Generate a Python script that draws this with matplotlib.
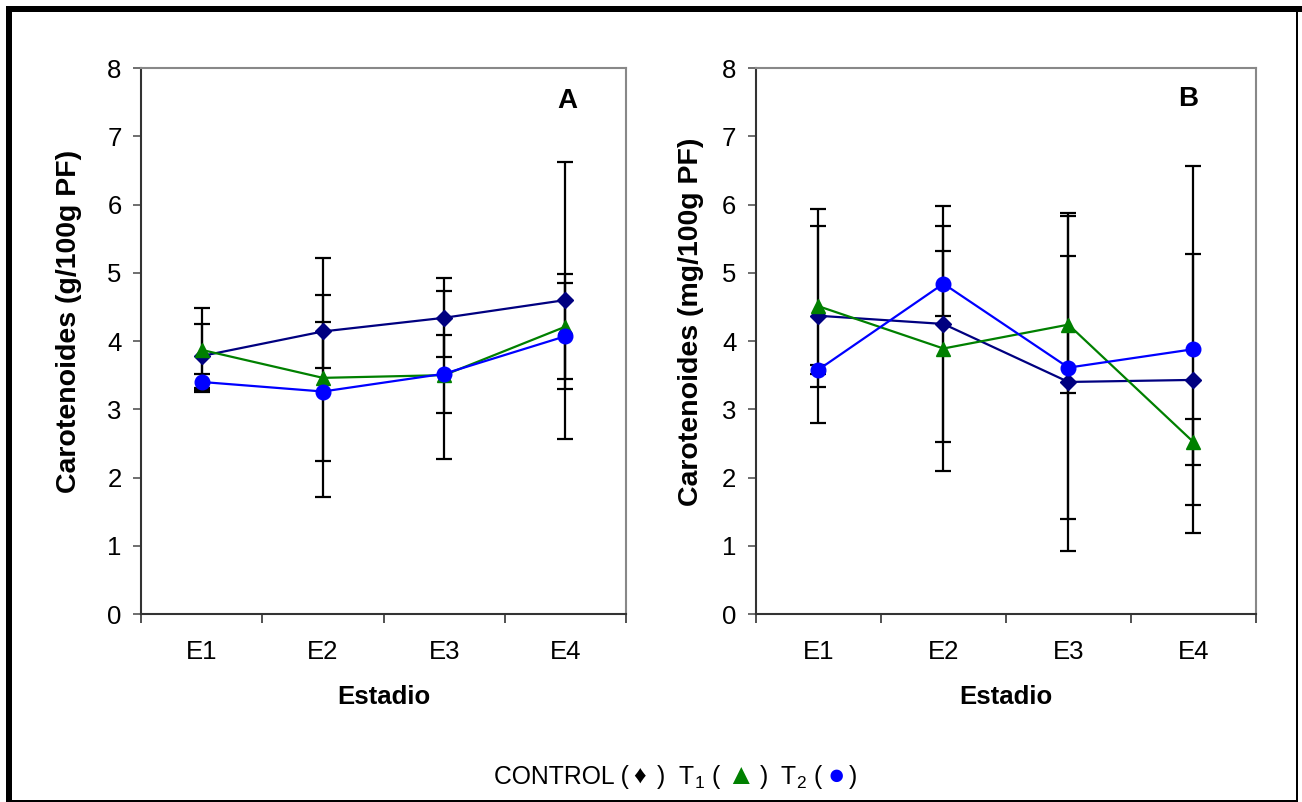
import numpy as np
import matplotlib
matplotlib.use('Agg')
import matplotlib.pyplot as plt
from matplotlib.patches import Rectangle
from matplotlib.offsetbox import TextArea, HPacker, AnchoredOffsetbox

plt.rcParams['font.family'] = ['Liberation Sans', 'DejaVu Sans']
plt.rcParams['mathtext.fontset'] = 'custom'
plt.rcParams['mathtext.rm'] = 'Liberation Sans'
plt.rcParams['mathtext.it'] = 'Liberation Sans'

estadios = ['E1', 'E2', 'E3', 'E4']

# panel A  (g/100g PF)
ctrl_a = [3.78, 4.14, 4.34, 4.60]
ctrl_a_err = [0.47, 0.53, 0.58, 2.03]
t1_a = [3.87, 3.46, 3.50, 4.21]
t1_a_err = [0.61, 1.75, 1.23, 0.77]
t2_a = [3.40, 3.26, 3.52, 4.07]
t2_a_err = [0.12, 1.02, 0.57, 0.78]

# panel B  (mg/100g PF)
ctrl_b = [4.37, 4.25, 3.40, 3.43]
ctrl_b_err = [1.57, 1.73, 2.47, 1.84]
t1_b = [4.51, 3.89, 4.24, 2.52]
t1_b_err = [1.18, 1.80, 1.00, 0.34]
t2_b = [3.58, 4.84, 3.61, 3.88]
t2_b_err = [0.07, 0.48, 2.22, 2.69]

FS = 18.5


def draw_panel(ax, series, ylabel, letter, lpos, ylab_x):
    x = np.arange(len(estadios)) + 0.5
    for vals, errs, color, marker, ms in series:
        ax.errorbar(x, vals, yerr=errs, color=color, marker=marker, ms=ms,
                    lw=1.6, ecolor='black', elinewidth=1.6, capsize=6,
                    capthick=1.6)
    ax.set_xlim(0, 4)
    ax.set_ylim(0, 8)
    ax.set_yticks(range(9))
    ax.set_xticks(range(5))
    ax.set_xticklabels([])
    ax.set_xticks(x, minor=True)
    ax.set_xticklabels(estadios, minor=True)
    ax.tick_params(axis='x', which='major', direction='out', length=6.5,
                   width=1.2, color='#333333')
    ax.tick_params(axis='x', which='minor', length=0, pad=19, labelsize=FS)
    ax.tick_params(axis='y', direction='out', length=6, width=1.2,
                   color='#555555', labelsize=FS, pad=8)
    for s in ['left', 'bottom']:
        ax.spines[s].set_color('#333333')
        ax.spines[s].set_linewidth(1.5)
    for s in ['top', 'right']:
        ax.spines[s].set_color('#888888')
        ax.spines[s].set_linewidth(1.5)
    ax.set_xlabel('Estadio', fontsize=FS, fontweight='bold', labelpad=15)
    ax.set_ylabel(ylabel, fontsize=20.5, fontweight='bold')
    ax.yaxis.set_label_coords(ylab_x, 0.535)
    ax.text(lpos[0], lpos[1], letter, transform=ax.transAxes, fontsize=20,
            fontweight='bold', ha='center', va='center')


fig = plt.figure(figsize=(13.02, 8.02), dpi=100)
axA = fig.add_axes([0.1083, 0.2344, 0.3725, 0.6808])
axB = fig.add_axes([0.5806, 0.2344, 0.3840, 0.6808])

draw_panel(axA, [(ctrl_a, ctrl_a_err, '#000080', 'D', 8),
                 (t1_a, t1_a_err, '#008000', '^', 10.5),
                 (t2_a, t2_a_err, '#0000FF', 'o', 10.5)],
           'Carotenoides (g/100g PF)', 'A', (0.88, 0.94), -0.121)
draw_panel(axB, [(ctrl_b, ctrl_b_err, '#000080', 'D', 8),
                 (t1_b, t1_b_err, '#008000', '^', 10.5),
                 (t2_b, t2_b_err, '#0000FF', 'o', 10.5)],
           'Carotenoides (mg/100g PF)', 'B', (0.864, 0.944), -0.104)

# legend line at the bottom
LFS = 17.8
parts = [('CONTROL (', 'black', LFS), ('\u2666', 'black', LFS),
         (' )  T$_1$ (', 'black', LFS), ('\u25B2', '#008000', LFS + 3),
         (')  T$_2$ (', 'black', LFS), ('\u25CF', '#0000FF', LFS + 3),
         (')', 'black', LFS)]
boxes = [TextArea(t, textprops=dict(color=c, fontsize=f)) for t, c, f in parts]
pack = HPacker(children=boxes, align='baseline', pad=0, sep=3)
anch = AnchoredOffsetbox(loc='center', child=pack, frameon=False,
                         bbox_to_anchor=(0.519, 0.032),
                         bbox_transform=fig.transFigure, borderpad=0)
fig.add_artist(anch)

# outer frame: heavy on left/top, thin on right/bottom
fig.add_artist(Rectangle((6 / 1302, 0), 6 / 1302, 1 - 6 / 802,
                         transform=fig.transFigure, color='black', lw=0))
fig.add_artist(Rectangle((6 / 1302, 1 - 12 / 802), 1 - 6 / 1302, 6 / 802,
                         transform=fig.transFigure, color='black', lw=0))
fig.add_artist(Rectangle((1296 / 1302, 0), 2 / 1302, 1 - 6 / 802,
                         transform=fig.transFigure, color='black', lw=0))
fig.add_artist(Rectangle((6 / 1302, 0.5 / 802), 1 - 10 / 1302, 2 / 802,
                         transform=fig.transFigure, color='black', lw=0))

fig.savefig('out.png', dpi=100, facecolor='white')
